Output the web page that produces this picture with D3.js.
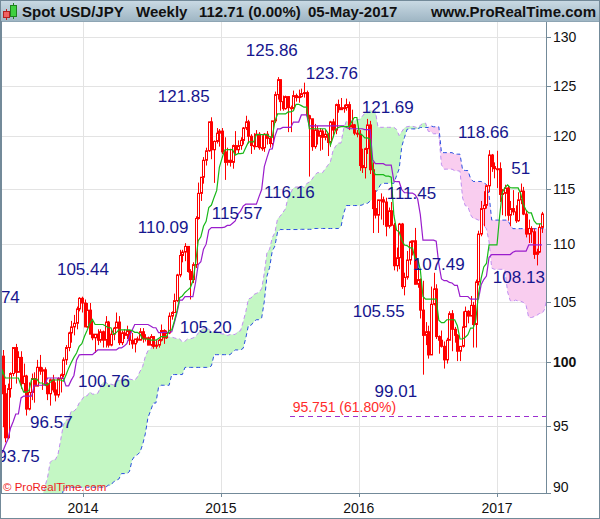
<!DOCTYPE html>
<html>
<head>
<meta charset="utf-8">
<script src="https://cdn.jsdelivr.net/npm/d3@7"></script>
<style>
  body { margin: 0; background: #fff; }
  svg { display: block; font-family: "Liberation Sans", Arial, sans-serif; }
</style>
</head>
<body>
<svg id="chart" width="600" height="519"></svg>
<script>
// Weekly USD/JPY bars [open, high, low, close], one per week ending Friday,
// starting with the week ending firstFriday. 2012 weeks are only there so the
// Ichimoku lines have history; they sit left of the visible window.
const firstFriday = "2012-03-02";

const ohlc2012 = [
  [80.2, 81.7, 79.9, 81.6], [81.6, 82.2, 80.4, 82.0], [82.0, 84.2, 81.8, 83.4], [83.4, 83.9, 82.0, 82.3],
  [82.3, 83.3, 81.7, 82.9], [82.9, 83.3, 81.5, 81.7], [81.7, 81.9, 80.3, 80.9], [80.9, 81.8, 80.6, 81.5],
  [81.5, 81.8, 80.2, 80.3], [80.3, 80.4, 79.6, 79.8], [79.8, 80.1, 79.4, 79.8], [79.8, 80.0, 79.0, 79.2],
  [79.2, 79.9, 79.1, 79.6], [79.6, 79.7, 77.7, 78.2], [78.2, 79.7, 78.0, 79.5], [79.5, 79.8, 78.8, 78.8],
  [78.8, 80.6, 78.6, 80.4], [80.4, 80.6, 79.3, 79.8], [79.8, 80.0, 79.5, 79.6], [79.6, 79.8, 78.6, 78.7],
  [78.7, 79.3, 78.4, 78.5], [78.5, 78.6, 77.9, 78.4], [78.4, 78.7, 78.1, 78.4], [78.4, 78.8, 78.1, 78.3],
  [78.3, 79.6, 78.3, 79.6], [79.6, 79.7, 78.5, 78.7], [78.7, 78.9, 78.2, 78.3], [78.3, 78.9, 78.1, 78.1],
  [78.1, 78.4, 77.1, 78.4], [78.4, 79.2, 77.9, 78.1], [78.1, 78.2, 77.4, 77.9], [77.9, 78.7, 77.9, 78.5],
  [78.5, 78.7, 78.1, 78.4], [78.4, 79.4, 78.3, 79.3], [79.3, 80.4, 79.2, 79.6], [79.6, 80.7, 79.4, 80.4],
  [80.4, 80.6, 79.1, 79.5], [79.5, 81.5, 79.4, 81.3], [81.3, 82.8, 81.1, 82.4], [82.4, 82.5, 81.7, 82.5],
  [82.5, 82.7, 81.9, 82.4], [82.4, 84.2, 82.3, 83.5], [83.5, 84.6, 83.3, 84.2], [84.2, 86.6, 84.2, 86.5]
];

const ohlc2013 = [
  [86.5, 88.4, 85.9, 88.1], [88.1, 89.4, 86.9, 89.2], [89.2, 90.2, 88.1, 90.1], [90.1, 91.1, 88.1, 90.9],
  [90.9, 92.8, 90.6, 92.8], [92.8, 94.1, 91.4, 92.7], [92.7, 94.0, 92.2, 93.5], [93.5, 94.2, 92.3, 93.4],
  [93.4, 94.8, 90.9, 93.6], [93.6, 96.6, 93.2, 96.0], [96.0, 96.7, 94.9, 95.3], [95.3, 95.9, 94.0, 94.5],
  [94.5, 94.8, 92.6, 94.2], [94.2, 97.7, 92.6, 97.6], [97.6, 99.9, 97.4, 98.4], [98.4, 99.2, 96.5, 99.4],
  [99.4, 99.9, 97.8, 98.0], [98.0, 99.2, 97.0, 99.0], [99.0, 101.9, 98.9, 101.6], [101.6, 103.3, 101.5, 103.2],
  [103.2, 103.74, 100.7, 101.0], [101.0, 102.5, 100.2, 100.5], [100.5, 101.0, 94.9, 97.5], [97.5, 98.2, 93.75, 94.1],
  [94.1, 98.3, 94.0, 97.9], [97.9, 99.2, 97.2, 99.1], [99.1, 101.1, 98.9, 101.2], [101.2, 101.5, 98.3, 99.2],
  [99.2, 100.9, 99.2, 100.4], [100.4, 100.9, 97.9, 98.3], [98.3, 99.9, 97.6, 98.9], [98.9, 99.0, 95.8, 96.3],
  [96.3, 98.4, 96.2, 97.6], [97.6, 99.1, 97.0, 98.7], [98.7, 99.2, 96.8, 98.1], [98.1, 100.2, 98.1, 99.6],
  [99.6, 100.6, 99.0, 99.3], [99.3, 99.6, 97.8, 99.4], [99.4, 99.6, 98.1, 98.3], [98.3, 98.4, 97.0, 97.5],
  [97.5, 98.7, 96.57, 98.6], [98.6, 99.0, 97.6, 97.8], [97.8, 98.4, 96.9, 97.4], [97.4, 98.8, 97.2, 98.7],
  [98.7, 99.1, 97.6, 99.0], [99.0, 100.4, 98.8, 100.2], [100.2, 101.4, 99.8, 101.2], [101.2, 102.5, 100.9, 102.4],
  [102.4, 103.4, 101.6, 102.9], [102.9, 103.9, 102.2, 103.2], [103.2, 104.6, 102.7, 104.4], [104.4, 105.4, 104.2, 105.3]
];

const ohlc2014 = [
  [105.3, 105.44, 104.1, 104.9], [104.9, 105.2, 102.9, 102.9], [102.9, 104.9, 102.8, 104.3], [104.3, 104.9, 102.3, 102.3],
  [102.3, 103.4, 101.8, 102.0], [102.0, 102.3, 100.76, 102.3], [102.3, 102.7, 101.4, 101.8], [101.8, 102.7, 101.6, 102.5],
  [102.5, 102.6, 101.2, 101.8], [101.8, 103.8, 101.2, 103.3], [103.3, 103.4, 101.2, 101.4], [101.4, 102.7, 101.3, 102.3],
  [102.3, 102.9, 101.8, 102.8], [102.8, 104.1, 102.8, 103.3], [103.3, 103.8, 101.4, 101.6], [101.6, 102.6, 101.4, 102.4],
  [102.4, 102.7, 101.9, 102.2], [102.2, 103.0, 101.9, 102.6], [102.6, 102.6, 101.4, 101.8], [101.8, 102.4, 101.1, 101.5],
  [101.5, 101.7, 100.8, 101.9], [101.9, 102.1, 101.6, 101.8], [101.8, 102.8, 101.8, 102.5], [102.5, 102.8, 101.6, 102.0],
  [102.0, 102.3, 101.7, 102.0], [102.0, 102.1, 101.4, 101.4], [101.4, 102.3, 101.3, 102.1], [102.1, 102.1, 101.1, 101.3],
  [101.3, 101.8, 101.1, 101.4], [101.4, 101.9, 101.2, 101.8], [101.8, 103.1, 101.7, 102.6], [102.6, 102.7, 101.5, 102.0],
  [102.0, 102.6, 101.9, 102.4], [102.4, 104.1, 102.3, 103.8], [103.8, 104.2, 103.5, 104.1], [104.1, 105.7, 104.1, 105.1],
  [105.1, 107.4, 105.0, 107.3], [107.3, 109.5, 107.1, 109.0], [109.0, 109.5, 108.4, 109.3], [109.3, 110.09, 108.5, 109.8],
  [109.8, 109.8, 107.5, 107.6], [107.6, 107.8, 105.20, 106.9], [106.9, 108.4, 106.6, 108.2], [108.2, 112.5, 107.9, 112.3],
  [112.3, 115.6, 112.2, 114.6], [114.6, 116.1, 113.9, 116.1], [116.1, 118.0, 115.5, 117.7], [117.7, 118.9, 117.2, 118.6],
  [118.6, 121.4, 118.5, 121.4], [121.4, 121.85, 117.8, 118.7], [118.7, 119.6, 115.57, 119.5], [119.5, 120.8, 119.3, 120.3]
];

const ohlc2015 = [
  [120.3, 120.7, 119.0, 120.5], [120.5, 120.8, 118.3, 118.5], [118.5, 119.9, 115.85, 117.5], [117.5, 118.9, 117.2, 117.7],
  [117.7, 118.8, 117.1, 117.5], [117.5, 119.2, 116.9, 119.1], [119.1, 120.5, 118.3, 118.7], [118.7, 119.6, 118.3, 119.1],
  [119.1, 119.9, 118.7, 119.6], [119.6, 120.9, 119.2, 120.8], [120.8, 122.0, 120.6, 121.4], [121.4, 121.6, 119.3, 120.0],
  [120.0, 120.2, 118.3, 119.1], [119.1, 120.3, 118.7, 119.0], [119.0, 120.6, 119.0, 120.2], [120.2, 120.4, 118.7, 118.9],
  [118.9, 120.1, 118.6, 118.9], [118.9, 120.3, 118.5, 120.2], [120.2, 120.5, 119.2, 119.8], [119.8, 120.0, 118.9, 119.3],
  [119.3, 121.5, 119.1, 121.5], [121.5, 124.4, 121.3, 124.1], [124.1, 125.86, 123.6, 125.6], [125.6, 125.6, 122.5, 123.4],
  [123.4, 124.0, 122.5, 122.7], [122.7, 124.0, 122.6, 123.9], [123.9, 123.9, 120.4, 122.8], [122.8, 123.0, 120.4, 122.8],
  [122.8, 124.5, 122.6, 124.0], [124.0, 124.2, 123.4, 123.8], [123.8, 124.6, 123.3, 123.9], [123.9, 124.7, 123.8, 124.2],
  [124.2, 125.3, 123.8, 124.3], [124.3, 124.5, 121.8, 122.0], [122.0, 122.1, 116.16, 121.7], [121.7, 121.7, 118.6, 119.0],
  [119.0, 121.2, 118.8, 120.6], [120.6, 121.0, 119.2, 120.0], [120.0, 120.8, 118.6, 120.5], [120.5, 120.7, 118.7, 119.9],
  [119.9, 120.6, 119.6, 120.2], [120.2, 120.3, 118.1, 119.4], [119.4, 121.5, 119.0, 121.4], [121.4, 121.7, 119.9, 120.6],
  [120.6, 123.2, 120.2, 123.1], [123.1, 123.6, 122.3, 122.6], [122.6, 123.76, 122.6, 122.8], [122.8, 123.1, 122.3, 122.8],
  [122.8, 123.7, 122.5, 123.1], [123.1, 123.4, 120.6, 120.9], [120.9, 122.6, 120.8, 121.1], [121.1, 121.2, 120.1, 120.3]
];

const ohlc2016 = [
  [120.3, 120.6, 119.9, 120.2], [120.2, 120.6, 116.7, 117.2], [117.2, 118.8, 116.5, 117.0], [117.0, 118.9, 115.98, 118.8],
  [118.8, 121.69, 118.3, 121.1], [121.1, 121.5, 116.4, 116.8], [116.8, 117.5, 110.99, 113.2], [113.2, 114.9, 112.3, 112.6],
  [112.6, 114.0, 111.0, 114.0], [114.0, 114.6, 112.2, 114.0], [114.0, 114.3, 111.7, 113.8], [113.8, 114.2, 110.7, 111.6],
  [111.6, 113.3, 111.4, 113.0], [113.0, 113.8, 111.6, 111.7], [111.7, 111.9, 107.7, 108.1], [108.1, 109.7, 107.6, 108.8],
  [108.8, 111.9, 107.8, 111.8], [111.8, 111.9, 106.1, 106.3], [106.3, 107.5, 105.55, 107.1], [107.1, 109.4, 106.9, 108.6],
  [108.6, 110.3, 108.2, 110.2], [110.2, 110.3, 109.0, 110.3], [110.3, 111.45, 106.5, 106.5], [106.5, 107.9, 106.2, 106.9],
  [106.9, 107.0, 103.6, 104.3], [104.3, 106.8, 99.01, 102.2], [102.2, 103.3, 101.4, 102.5], [102.5, 103.0, 100.3, 100.6],
  [100.6, 106.3, 100.6, 104.8], [104.8, 107.49, 104.7, 106.1], [106.1, 106.5, 101.9, 102.1], [102.1, 102.2, 100.7, 101.8],
  [101.8, 102.6, 101.2, 101.3], [101.3, 101.7, 99.5, 100.2], [100.2, 102.0, 99.9, 101.8], [101.8, 104.2, 101.8, 104.0],
  [104.0, 104.3, 100.9, 102.7], [102.7, 102.9, 101.6, 102.2], [102.2, 102.3, 100.1, 100.9], [100.9, 101.3, 100.1, 101.3],
  [101.3, 104.2, 101.2, 102.9], [102.9, 104.6, 102.9, 104.2], [104.2, 104.3, 103.2, 103.8], [103.8, 105.5, 103.8, 104.7],
  [104.7, 105.0, 101.2, 103.1], [103.1, 106.9, 101.2, 106.7], [106.7, 111.2, 106.4, 110.9], [110.9, 113.9, 110.7, 113.2],
  [113.2, 114.8, 111.6, 113.5], [113.5, 115.4, 113.2, 115.3], [115.3, 118.66, 114.7, 118.2], [118.2, 118.3, 116.6, 117.1],
  [117.1, 117.5, 116.0, 116.9]
];

const ohlc2017 = [
  [116.9, 118.6, 115.1, 116.9], [116.9, 117.5, 113.8, 114.5], [114.5, 115.0, 112.6, 114.6], [114.6, 115.4, 112.5, 115.1],
  [115.1, 115.3, 112.1, 112.6], [112.6, 113.9, 111.6, 113.2], [113.2, 114.9, 112.6, 112.9], [112.9, 113.5, 111.9, 112.1],
  [112.1, 114.7, 112.0, 114.0], [114.0, 115.51, 113.6, 114.8], [114.8, 115.2, 112.6, 112.7], [112.7, 113.0, 110.6, 110.9],
  [110.9, 112.2, 110.1, 111.4], [111.4, 111.6, 110.1, 111.1], [111.1, 111.4, 108.7, 109.1], [109.1, 109.6, 108.13, 109.3],
  [109.3, 111.8, 109.2, 111.5], [111.5, 112.9, 111.0, 112.71]
];

// axes
const priceTicks = [90, 95, 100, 105, 110, 115, 120, 125, 130];
const yearTicks = ["2014", "2015", "2016", "2017"];

// text annotations: label, date and price of the label's left baseline
const annotations = [
  { text: "103.74", date: "2013-03-02", price: 104.90 },
  { text: "93.75", date: "2013-05-19", price: 92.29 },
  { text: "96.57", date: "2013-08-14", price: 94.85 },
  { text: "105.44", date: "2013-10-24", price: 107.30 },
  { text: "100.76", date: "2013-12-19", price: 98.04 },
  { text: "110.09", date: "2014-05-26", price: 110.99 },
  { text: "121.85", date: "2014-07-18", price: 123.36 },
  { text: "105.20", date: "2014-09-14", price: 102.40 },
  { text: "115.57", date: "2014-12-08", price: 112.25 },
  { text: "125.86", date: "2015-03-08", price: 128.02 },
  { text: "116.16", date: "2015-04-25", price: 114.17 },
  { text: "123.76", date: "2015-08-14", price: 125.67 },
  { text: "105.55", date: "2015-12-16", price: 103.73 },
  { text: "121.69", date: "2016-01-09", price: 122.27 },
  { text: "99.01", date: "2016-02-12", price: 97.25 },
  { text: "111.45", date: "2016-03-15", price: 114.08 },
  { text: "107.49", date: "2016-05-23", price: 107.73 },
  { text: "118.66", date: "2016-09-20", price: 119.83 },
  { text: "108.13", date: "2016-12-21", price: 106.61 },
  { text: "51", date: "2017-02-08", price: 116.40 }
];

// 61.8% retracement line
const fibLevel = 95.751;
const fibStart = "2015-07-03";
const fibLabel = { text: "95.751 (61.80%)", date: "2015-07-10", price: 96.08 };

const colors = {
  candle: "#ff0000",
  tenkan: "#18b818",
  kijun: "#9a1ccc",
  spanA: "#c08ef0",
  spanB: "#2a4ee0",
  cloudUp: "#c4f7c4",
  cloudDown: "#f9cdef",
  label: "#16168e",
  grid: "#e3e3e3",
  frame: "#738a99"
};

const parse = d3.utcParse("%Y-%m-%d");
const plot = { left: 1, right: 546, top: 22, bottom: 493 };

const x = d3.scaleUtc()
  .domain([parse("2014-01-01"), parse("2017-01-01")])
  .range([83, 497]);
const y = d3.scaleLog().domain([90, 130]).range([493, 37]);

const start = parse(firstFriday);
const bars = [...ohlc2012, ...ohlc2013, ...ohlc2014, ...ohlc2015, ...ohlc2016, ...ohlc2017]
  .map((d, i) => ({
    // bar is placed at the start of its trading week
    date: d3.utcDay.offset(d3.utcWeek.offset(start, i), -5),
    open: d[0], high: d[1], low: d[2], close: d[3]
  }));

// Ichimoku: midpoint of the high/low range over the last n bars
function midRange(i, n) {
  if (i - n + 1 < 0) return null;
  const win = bars.slice(i - n + 1, i + 1);
  return (d3.max(win, (d) => d.high) + d3.min(win, (d) => d.low)) / 2;
}

const lines = bars.map((d, i) => ({ date: d.date, tenkan: midRange(i, 9), kijun: midRange(i, 26) }));
const cloud = bars
  .map((d, i) => ({
    date: d3.utcWeek.offset(d.date, 26),
    a: lines[i].tenkan != null && lines[i].kijun != null ? (lines[i].tenkan + lines[i].kijun) / 2 : null,
    b: midRange(i, 52)
  }))
  .filter((d) => d.a != null && d.b != null);

const svg = d3.select("#chart");
const defs = svg.append("defs");

// header bar
const grad = defs.append("linearGradient").attr("id", "hdr").attr("x1", 0).attr("x2", 0).attr("y1", 0).attr("y2", 1);
grad.append("stop").attr("offset", "0%").attr("stop-color", "#cbdbe5");
grad.append("stop").attr("offset", "100%").attr("stop-color", "#9fb6c4");

svg.append("rect").attr("width", 600).attr("height", 519).attr("fill", "#fff");

defs.append("clipPath").attr("id", "plotClip")
  .append("rect")
  .attr("x", plot.left).attr("y", plot.top)
  .attr("width", plot.right - plot.left).attr("height", plot.bottom - plot.top);

const g = svg.append("g").attr("clip-path", "url(#plotClip)");

// grid
g.append("g").selectAll("line").data(priceTicks).join("line")
  .attr("x1", plot.left).attr("x2", plot.right)
  .attr("y1", (d) => Math.round(y(d)) + 0.5).attr("y2", (d) => Math.round(y(d)) + 0.5)
  .attr("stroke", colors.grid);
g.append("g").selectAll("line").data(yearTicks).join("line")
  .attr("x1", (d) => Math.round(x(parse(d + "-01-01"))) + 0.5)
  .attr("x2", (d) => Math.round(x(parse(d + "-01-01"))) + 0.5)
  .attr("y1", plot.top).attr("y2", plot.bottom)
  .attr("stroke", colors.grid);

// cloud: green where span A is above span B, pink where below
const cx = (d) => x(d.date);
const far = { top: plot.top - 50, bottom: plot.bottom + 50 };
defs.append("clipPath").attr("id", "belowA").append("path")
  .attr("d", d3.area().x(cx).y0(far.bottom).y1((d) => y(d.a))(cloud));
defs.append("clipPath").attr("id", "aboveA").append("path")
  .attr("d", d3.area().x(cx).y0(far.top).y1((d) => y(d.a))(cloud));

g.append("path")
  .attr("clip-path", "url(#belowA)")
  .attr("fill", colors.cloudUp)
  .attr("d", d3.area().x(cx).y0((d) => y(d.b)).y1(far.top)(cloud));
g.append("path")
  .attr("clip-path", "url(#aboveA)")
  .attr("fill", colors.cloudDown)
  .attr("d", d3.area().x(cx).y0((d) => y(d.b)).y1(far.bottom)(cloud));

g.append("path")
  .attr("fill", "none").attr("stroke", colors.spanA).attr("stroke-width", 1)
  .attr("stroke-dasharray", "4,3")
  .attr("d", d3.line().x(cx).y((d) => y(d.a))(cloud));
g.append("path")
  .attr("fill", "none").attr("stroke", colors.spanB).attr("stroke-width", 1)
  .attr("stroke-dasharray", "4,3")
  .attr("d", d3.line().x(cx).y((d) => y(d.b))(cloud));

// fibonacci level
g.append("line")
  .attr("x1", x(parse(fibStart))).attr("x2", plot.right)
  .attr("y1", Math.round(y(fibLevel)) + 0.5).attr("y2", Math.round(y(fibLevel)) + 0.5)
  .attr("stroke", "#9b2fd0").attr("stroke-dasharray", "5,4");

// candles
const candles = g.append("g");
const px = (d) => Math.round(x(d.date));
candles.selectAll("line").data(bars).join("line")
  .attr("x1", (d) => px(d) + 0.5).attr("x2", (d) => px(d) + 0.5)
  .attr("y1", (d) => y(d.high)).attr("y2", (d) => y(d.low))
  .attr("stroke", colors.candle);
candles.selectAll("rect").data(bars).join("rect")
  .attr("x", (d) => px(d) - 0.5)
  .attr("width", 2)
  .attr("y", (d) => y(Math.max(d.open, d.close)))
  .attr("height", (d) => Math.max(1, y(Math.min(d.open, d.close)) - y(Math.max(d.open, d.close))))
  .attr("fill", (d) => (d.close >= d.open ? "#fff" : colors.candle))
  .attr("stroke", colors.candle)
  .attr("stroke-width", 1);

// tenkan / kijun
g.append("path")
  .attr("fill", "none").attr("stroke", colors.kijun).attr("stroke-width", 1.2)
  .attr("d", d3.line().defined((d) => d.kijun != null).x(cx).y((d) => y(d.kijun))(lines));
g.append("path")
  .attr("fill", "none").attr("stroke", colors.tenkan).attr("stroke-width", 1.2)
  .attr("d", d3.line().defined((d) => d.tenkan != null).x(cx).y((d) => y(d.tenkan))(lines));

// annotations
g.append("g").selectAll("text").data(annotations).join("text")
  .attr("x", (d) => x(parse(d.date)))
  .attr("y", (d) => y(d.price))
  .attr("fill", colors.label)
  .attr("font-size", 17)
  .text((d) => d.text);

g.append("text")
  .attr("x", x(parse(fibLabel.date)))
  .attr("y", y(fibLabel.price))
  .attr("fill", "#ff2b2b")
  .attr("font-size", 14)
  .text(fibLabel.text);

g.append("text")
  .attr("x", 3).attr("y", 491)
  .attr("fill", "#ee1c1c")
  .attr("font-size", 11.5)
  .text("© ProRealTime.com");

// right price axis
const yAxis = svg.append("g");
yAxis.append("line")
  .attr("x1", plot.right + 0.5).attr("x2", plot.right + 0.5)
  .attr("y1", plot.top).attr("y2", plot.bottom + 0.5)
  .attr("stroke", colors.frame);
yAxis.append("line")
  .attr("x1", plot.left).attr("x2", plot.right)
  .attr("y1", plot.bottom + 0.5).attr("y2", plot.bottom + 0.5)
  .attr("stroke", colors.frame);
yAxis.selectAll("line.tick").data(priceTicks).join("line")
  .attr("class", "tick")
  .attr("x1", plot.right).attr("x2", plot.right + 5)
  .attr("y1", (d) => Math.round(y(d)) + 0.5).attr("y2", (d) => Math.round(y(d)) + 0.5)
  .attr("stroke", colors.frame);
yAxis.selectAll("text").data(priceTicks).join("text")
  .attr("x", plot.right + 7)
  // labels stay above the bottom edge of the plot
  .attr("y", (d) => Math.min(y(d), plot.bottom - 6) + 5)
  .attr("font-size", 14)
  .attr("font-weight", (d) => (d === 100 ? "bold" : "normal"))
  .attr("fill", "#111")
  .text((d) => d);

// bottom time axis
const xAxis = svg.append("g");
xAxis.selectAll("line").data(yearTicks).join("line")
  .attr("x1", (d) => Math.round(x(parse(d + "-01-01"))) + 0.5)
  .attr("x2", (d) => Math.round(x(parse(d + "-01-01"))) + 0.5)
  .attr("y1", plot.bottom).attr("y2", plot.bottom + 4)
  .attr("stroke", colors.frame);
xAxis.selectAll("text").data(yearTicks).join("text")
  .attr("x", (d) => x(parse(d + "-01-01")))
  .attr("y", 513)
  .attr("text-anchor", "middle")
  .attr("font-size", 14)
  .attr("fill", "#111")
  .text((d) => d);

// header
svg.append("rect").attr("x", 0).attr("y", 0).attr("width", 600).attr("height", 21).attr("fill", "url(#hdr)");
svg.append("line").attr("x1", 0).attr("x2", 600).attr("y1", 21.5).attr("y2", 21.5).attr("stroke", "#8ea5b4");

const icon = svg.append("g");
icon.append("line").attr("x1", 6.5).attr("x2", 6.5).attr("y1", 9).attr("y2", 20).attr("stroke", "#c02020");
icon.append("rect").attr("x", 3.5).attr("y", 11.5).attr("width", 6).attr("height", 6)
  .attr("fill", "#f06060").attr("stroke", "#b02020");
icon.append("line").attr("x1", 13.5).attr("x2", 13.5).attr("y1", 3).attr("y2", 19).attr("stroke", "#208020");
icon.append("rect").attr("x", 10.5).attr("y", 5.5).attr("width", 6).attr("height", 11)
  .attr("fill", "#40d040").attr("stroke", "#208020");

const header = [
  { text: "Spot USD/JPY", x: 22, anchor: "start" },
  { text: "Weekly", x: 136, anchor: "start" },
  { text: "112.71 (0.00%)", x: 199, anchor: "start" },
  { text: "05-May-2017", x: 308, anchor: "start" },
  { text: "www.ProRealTime.com", x: 596, anchor: "end" }
];
svg.append("g").selectAll("text").data(header).join("text")
  .attr("x", (d) => d.x).attr("y", 16.5)
  .attr("text-anchor", (d) => d.anchor)
  .attr("font-size", 15).attr("font-weight", "bold")
  .attr("fill", "#111")
  .text((d) => d.text);

// outer frame
svg.append("rect").attr("x", 0.5).attr("y", 0.5).attr("width", 599).attr("height", 518)
  .attr("fill", "none").attr("stroke", colors.frame).attr("stroke-width", 1);
svg.append("line").attr("x1", 1).attr("x2", 1).attr("y1", 21).attr("y2", 493)
  .attr("stroke", colors.frame).attr("stroke-width", 2);
</script>
</body>
</html>
